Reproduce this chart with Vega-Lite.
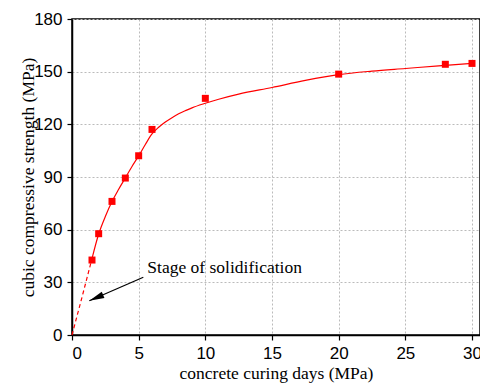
{
  "$schema": "https://vega.github.io/schema/vega-lite/v6.json",
  "autosize": "none",
  "width": 408,
  "height": 316,
  "padding": {"left": 72, "top": 19, "right": 0, "bottom": 51},
  "background": "white",
  "config": {
    "view": {"stroke": "#000", "strokeWidth": 1.5},
    "axis": {
      "domainColor": "#000", "domainWidth": 1.5, "tickColor": "#000", "tickWidth": 1.2,
      "labelFont": "Liberation Sans", "labelFontSize": 17, "labelColor": "#000",
      "titleFont": "Liberation Serif", "titleFontSize": 17.5, "titleFontWeight": "normal", "titleColor": "#000",
      "gridColor": "#bbbbbb", "gridDash": [2, 2], "gridWidth": 1
    }
  },
  "datasets": {
    "pts": [
      {"days": 1.5, "strength": 42.7},
      {"days": 2, "strength": 57.7},
      {"days": 3, "strength": 76.1},
      {"days": 4, "strength": 89.4},
      {"days": 5, "strength": 102.1},
      {"days": 6, "strength": 117.1},
      {"days": 10, "strength": 134.8},
      {"days": 20, "strength": 148.6},
      {"days": 28, "strength": 154.2},
      {"days": 30, "strength": 154.7}
    ],
    "fit": [
      {"days": 1.5, "strength": 43.5},
      {"days": 2, "strength": 57.5},
      {"days": 2.5, "strength": 67.5},
      {"days": 3, "strength": 76},
      {"days": 3.5, "strength": 83},
      {"days": 4, "strength": 89.5},
      {"days": 4.5, "strength": 96},
      {"days": 5, "strength": 102},
      {"days": 5.5, "strength": 108.5},
      {"days": 6, "strength": 114.5},
      {"days": 6.5, "strength": 118.3},
      {"days": 7, "strength": 121.3},
      {"days": 7.5, "strength": 123.8},
      {"days": 8, "strength": 126},
      {"days": 8.6, "strength": 128.1},
      {"days": 9, "strength": 129.4},
      {"days": 10, "strength": 132},
      {"days": 11, "strength": 134.3},
      {"days": 12.5, "strength": 137.2},
      {"days": 15, "strength": 141},
      {"days": 17.5, "strength": 145},
      {"days": 20, "strength": 148.3},
      {"days": 22.5, "strength": 150.3},
      {"days": 25, "strength": 151.8},
      {"days": 27.5, "strength": 153.3},
      {"days": 30, "strength": 154.7}
    ],
    "dash": [
      {"days": 0, "strength": 0},
      {"days": 0.75, "strength": 21.5},
      {"days": 1.5, "strength": 43.5}
    ],
    "arrow": [
      {"x1": 5.35, "y1": 32.9, "x2": 1.3, "y2": 19.5}
    ],
    "label": [
      {"days": 5.65, "strength": 35.1, "text": "Stage of solidification"}
    ]
  },
  "layer": [
    {
      "data": {"name": "fit"},
      "mark": {"type": "line", "color": "#ff0000", "strokeWidth": 1.2, "interpolate": "monotone"},
      "encoding": {
        "x": {
          "field": "days", "type": "quantitative",
          "scale": {"domain": [0, 30.6], "nice": false, "zero": false},
          "axis": {
            "title": "concrete curing days (MPa)",
            "values": [0, 2.5, 5, 7.5, 10, 12.5, 15, 17.5, 20, 22.5, 25, 27.5, 30],
            "labelExpr": "datum.value % 5 === 0 ? datum.label : ''",
            "tickSize": {"condition": {"test": "datum.value % 5 === 0", "value": 5}, "value": 3},
            "gridOpacity": {"condition": {"test": "datum.value % 5 === 0", "value": 1}, "value": 0},
            "labelPadding": 5,
            "titleBaseline": "alphabetic",
            "titleY": 43
          }
        },
        "y": {
          "field": "strength", "type": "quantitative",
          "scale": {"domain": [0, 180], "nice": false},
          "axis": {
            "title": "cubic compressive strength (MPa)",
            "values": [0, 15, 30, 45, 60, 75, 90, 105, 120, 135, 150, 165, 180],
            "labelExpr": "datum.value % 30 === 0 ? datum.label : ''",
            "tickSize": {"condition": {"test": "datum.value % 30 === 0", "value": 5}, "value": 3},
            "gridOpacity": {"condition": {"test": "datum.value % 30 === 0", "value": 1}, "value": 0},
            "labelPadding": 5,
            "titleBaseline": "alphabetic",
            "titleX": -39
          }
        }
      }
    },
    {
      "data": {"name": "dash"},
      "mark": {"type": "line", "color": "#ff0000", "strokeWidth": 1.2, "strokeDash": [4, 3]},
      "encoding": {
        "x": {"field": "days", "type": "quantitative"},
        "y": {"field": "strength", "type": "quantitative"}
      }
    },
    {
      "data": {"name": "pts"},
      "mark": {"type": "square", "color": "#ff0000", "opacity": 1, "size": 49},
      "encoding": {
        "x": {"field": "days", "type": "quantitative"},
        "y": {"field": "strength", "type": "quantitative"}
      }
    },
    {
      "data": {"name": "arrow"},
      "mark": {"type": "rule", "color": "#000", "strokeWidth": 1.2},
      "encoding": {
        "x": {"field": "x1", "type": "quantitative"},
        "y": {"field": "y1", "type": "quantitative"},
        "x2": {"field": "x2"},
        "y2": {"field": "y2"}
      }
    },
    {
      "data": {"name": "arrow"},
      "mark": {"type": "point", "shape": "M0,0L0.45,2L-0.45,2Z", "filled": true, "color": "#000", "opacity": 1, "size": 225, "angle": 246.6},
      "encoding": {
        "x": {"field": "x2", "type": "quantitative"},
        "y": {"field": "y2", "type": "quantitative"}
      }
    },
    {
      "data": {"name": "label"},
      "mark": {"type": "text", "align": "left", "baseline": "alphabetic", "font": "Liberation Serif", "fontSize": 17.5, "color": "#000"},
      "encoding": {
        "x": {"field": "days", "type": "quantitative"},
        "y": {"field": "strength", "type": "quantitative"},
        "text": {"field": "text"}
      }
    }
  ]
}
